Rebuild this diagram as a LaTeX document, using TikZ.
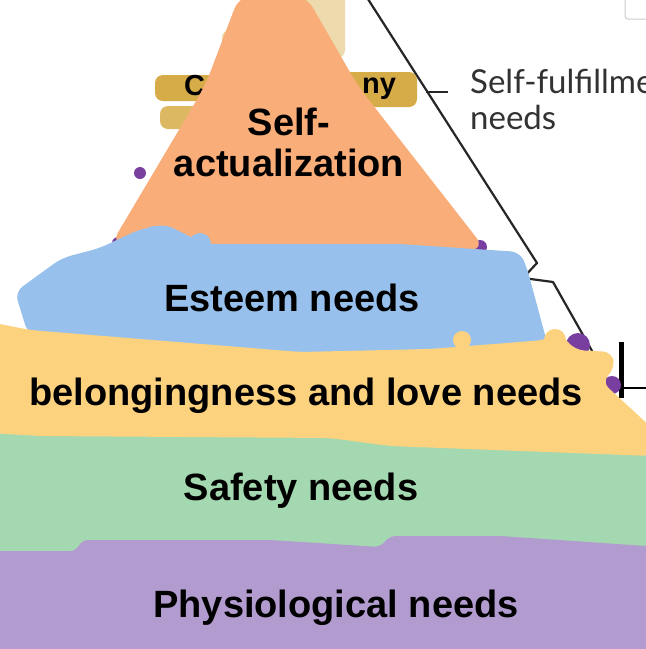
\documentclass[tikz,border=0pt]{standalone}
\usepackage{fontspec}
\setmainfont{Liberation Sans}
\newfontfamily\labelfont{Lato}
\definecolor{cOrange}{RGB}{249,173,120}
\definecolor{cBlue}{RGB}{151,193,236}
\definecolor{cYellow}{RGB}{253,210,126}
\definecolor{cGreen}{RGB}{164,216,176}
\definecolor{cPurple}{RGB}{178,155,207}
\definecolor{cGold}{RGB}{214,172,72}
\definecolor{cDeep}{RGB}{120,62,160}
\definecolor{cInk}{RGB}{50,50,50}
\tikzset{
  band/.style={rounded corners=9pt},
  levellabel/.style={font=\bfseries\fontsize{38}{42}\selectfont, text=black, anchor=base, inner sep=0pt},
  sidelabel/.style={font=\labelfont\fontsize{33}{37}\selectfont, text=cInk, anchor=base west, inner sep=0pt},
  remnant/.style={font=\bfseries\fontsize{29}{33}\selectfont, text=black, anchor=base west, inner sep=0pt},
  bracketline/.style={draw=black!85, line width=2.2pt, line join=round},
}
\begin{document}
\begin{tikzpicture}[x=1pt,y=-1pt]
\useasboundingbox (0,0) rectangle (646,649);
\clip (0,0) rectangle (646,649);
\fill[white] (0,0) rectangle (646,649);
% background remnants
\draw[gray!40, line width=1pt, rounded corners=3pt] (625,-6) rectangle (652,19);
\coordinate (l0) at (366,-4);
\coordinate (l1) at (537,263);
\coordinate (l2) at (523,278);
\coordinate (l3) at (553,282);
\coordinate (l4) at (600,365);
\draw[bracketline] (l0) -- (l1) -- (l2) -- (l3) -- (l4);
\coordinate (t0) at (426,92);
\coordinate (t1) at (448,92);
\draw[bracketline] (t0) -- (t1);
\node[sidelabel] (sf1) at (470,93) {Self-fulfillmen};
\node[sidelabel] (sf2) at (470,129) {needs};
\coordinate (b0) at (621,342);
\coordinate (b1) at (621,398);
\coordinate (b2) at (624,388);
\coordinate (b3) at (648,388);
\draw[black, line width=5pt] (b0) -- (b1);
\draw[black, line width=2pt] (b2) -- (b3);
% gold strips behind apex
\fill[cGold!45, rounded corners=8pt] (296,-8) rectangle (345,58);
\fill[cGold!55, rounded corners=8pt] (222,30) rectangle (262,62);
\fill[cGold, rounded corners=8pt] (155,75) rectangle (240,101);
\fill[cGold, rounded corners=8pt] (330,72) rectangle (417,107);
\fill[cGold!85, rounded corners=8pt] (160,106) rectangle (215,129);
\node[remnant] (c1) at (184,95) {C};
\node[remnant] (c2) at (362,93) {ny};
% deep purple remnants
\fill[cDeep] (140,173) circle (6pt);
\fill[cDeep] (118,243) circle (6pt);
\fill[cDeep] (480,247) circle (7pt);
\fill[cDeep] (578,345) circle (12pt);
\fill[cDeep] (595,370) circle (10pt);
\fill[cDeep] (612,385) circle (9pt);
% orange apex
\fill[cOrange, rounded corners=16pt] (240,-6) -- (305,-6) -- (358,86) -- (486,250) -- (110,246)
  -- (205,86) -- cycle;
% blue band
\fill[cBlue, band] (15,292) -- (48,268) -- (62,258) -- (100,248) -- (138,230) -- (165,224) -- (185,234)
  -- (205,244) -- (400,244) -- (520,252) -- (527,268) -- (548,346) -- (300,353) -- (28,334) -- cycle;
\fill[cBlue] (155,240) circle (14pt);
\fill[cBlue] (200,244) circle (11pt);
\fill[cBlue] (40,290) circle (10pt);
% green band
\fill[cGreen] (0,425) rectangle (646,560);
% yellow band
\fill[cYellow, band] (-10,322) -- (30,330) -- (300,352) -- (430,349) -- (545,340) -- (560,333)
  -- (575,350) -- (612,352) -- (615,368) -- (602,382) -- (652,428) -- (652,456) -- (390,446)
  -- (330,438) -- (40,436) -- (-10,433) -- cycle;
\fill[cYellow] (555,340) circle (11pt);
\fill[cYellow] (462,340) circle (9pt);
% purple band
\fill[cPurple, rounded corners=6pt] (-10,551) -- (76,551) -- (82,540) -- (270,540) -- (380,547)
  -- (390,536) -- (500,536) -- (646,546) -- (652,546) -- (652,655) -- (-10,655) -- cycle;
% labels
\node[levellabel] (sa1) at (289,135) {Self-};
\node[levellabel] (sa2) at (289,176) {actualization};
\node[levellabel] (es) at (292,311) {Esteem needs};
\node[levellabel] (bl) at (306,405) {belongingness and love needs};
\node[levellabel] (sn) at (301,500) {Safety needs};
\node[levellabel] (ph) at (336,617) {Physiological needs};
\end{tikzpicture}
\end{document}
